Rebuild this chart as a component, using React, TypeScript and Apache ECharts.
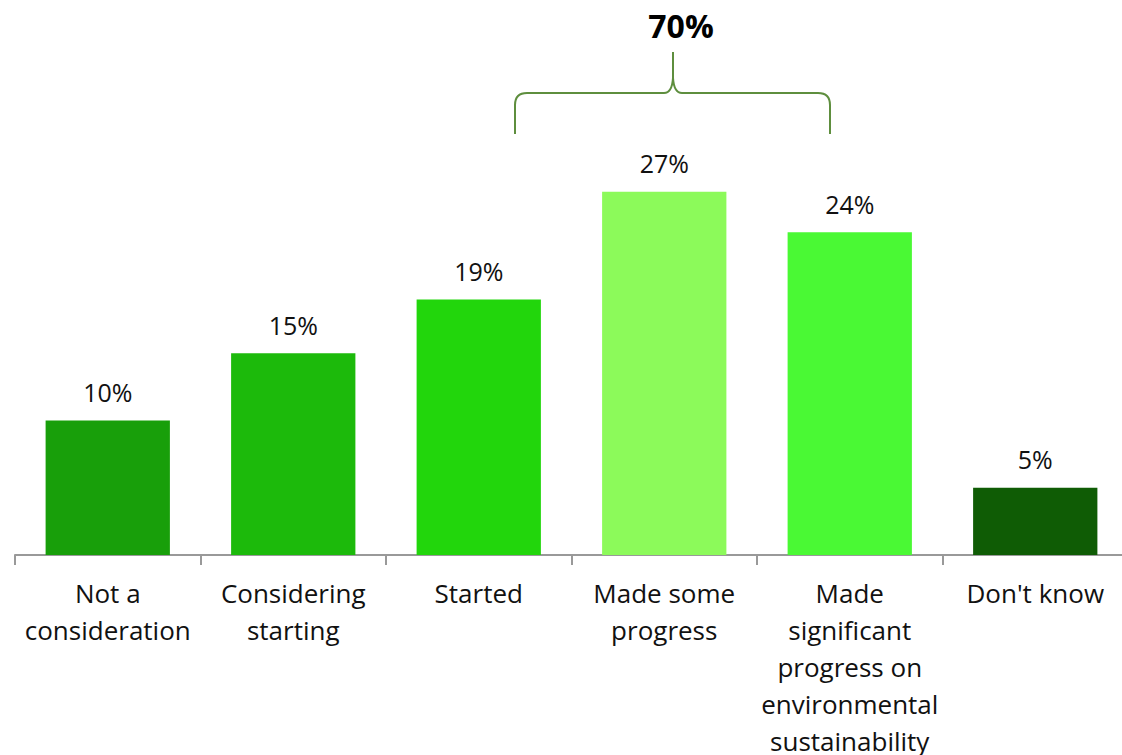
import React, { useEffect, useRef } from "react";
import * as echarts from "echarts";

const categories = [
  "Not a\nconsideration",
  "Considering\nstarting",
  "Started",
  "Made some\nprogress",
  "Made\nsignificant\nprogress on\nenvironmental\nsustainability",
  "Don't know",
];
const values = [10, 15, 19, 27, 24, 5];
const barColors = ["#189F0A", "#1CBA0B", "#22D60C", "#8CFA5A", "#4AF934", "#0F5C05"];
const groupLabel = "70%";

const braceD =
  "M-158 82 L-158 53 Q-158 41 -146 41 L-9 41 Q-1 41 0 26 L0 0 M0 26 Q1 41 9 41 L145 41 Q157 41 157 53 L157 82";
echarts.graphic.registerShape("brace", echarts.graphic.extendPath(braceD, {}));

export default function App() {
  const ref = useRef<HTMLDivElement>(null);
  useEffect(() => {
    if (!ref.current) return;
    const chart = echarts.init(ref.current, undefined, { renderer: "svg" });
    chart.setOption({
      animation: false,
      textStyle: { fontFamily: "Open Sans" },
      grid: {
        left: 15,
        top: 17,
        width: 1113,
        height: 538,
        containLabel: false,
        outerBoundsMode: "none",
      },
      xAxis: {
        type: "category",
        data: categories,
        axisLine: { lineStyle: { color: "#999999", width: 2 } },
        axisTick: { show: true, length: 10, lineStyle: { color: "#999999", width: 2 } },
        axisLabel: {
          color: "#111111",
          fontSize: 26,
          lineHeight: 37,
          margin: 19,
          interval: 0,
          fontFamily: "Open Sans",
        },
      },
      yAxis: { type: "value", min: 0, max: 40, show: false, splitLine: { show: false } },
      series: [
        {
          type: "bar",
          barWidth: "67%",
          data: values.map((v, i) => ({ value: v, itemStyle: { color: barColors[i] } })),
          label: {
            show: true,
            position: "top",
            distance: 16,
            formatter: "{c}%",
            color: "#111111",
            fontSize: 25,
            fontFamily: "Open Sans",
          },
        },
      ],
      graphic: [
        {
          type: "brace",
          x: 673,
          y: 52,
          style: { fill: "none", stroke: "#5E8E3E", lineWidth: 2 },
        },
        {
          type: "text",
          x: 681,
          y: 25,
          style: {
            text: groupLabel,
            fontSize: 32,
            fontWeight: "bold",
            fontFamily: "Open Sans",
            fill: "#000000",
            align: "center",
            verticalAlign: "middle",
          },
        },
      ],
    });
    return () => chart.dispose();
  }, []);
  return <div ref={ref} style={{ width: 1122, height: 755, position: "absolute", left: 0, top: 0 }} />;
}
